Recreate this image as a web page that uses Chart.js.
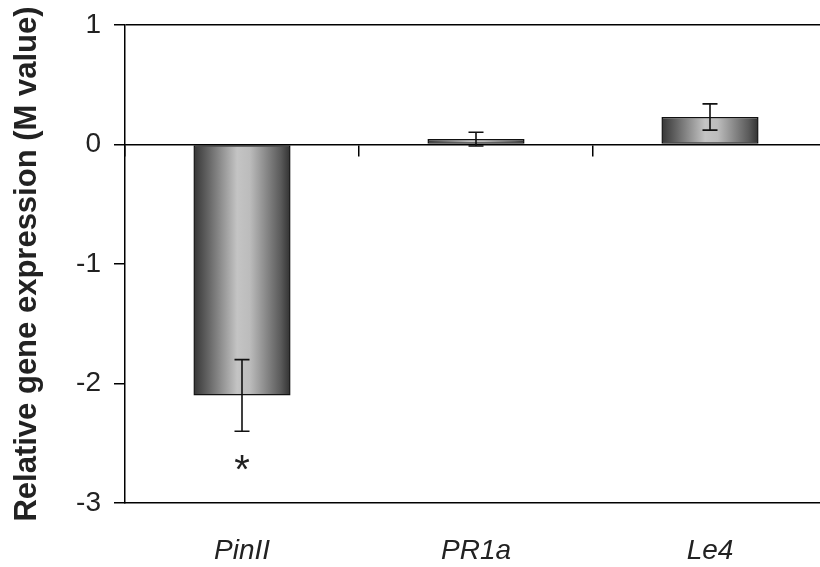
<!DOCTYPE html>
<html>
<head>
<meta charset="utf-8">
<script src="https://cdn.jsdelivr.net/npm/chart.js@4.4.1/dist/chart.umd.min.js"></script>
<style>
  html, body { margin: 0; padding: 0; background: #fff; overflow: hidden; }
  #wrap { width: 830px; height: 567px; }
</style>
</head>
<body>
<div id="wrap"><canvas id="c" width="830" height="567"></canvas></div>
<script>
// ---- data ----
const categories = ['PinII', 'PR1a', 'Le4'];
const meanValues = [-2.10, 0.045, 0.23];
const errorValues = [0.30, 0.058, 0.11];
const significance = ['*', '', ''];
const yTickMin = -3;
const yTickMax = 1;
const yTitle = 'Relative gene expression (M value)';

const BAR_PCT = 0.415;
const FONT = '"Liberation Sans", Arial, Helvetica, sans-serif';

function barGradient(c) {
  const chart = c.chart;
  const xs = chart.scales.x;
  if (!xs || c.dataIndex === undefined || !isFinite(xs.width)) return '#888';
  const cx = xs.getPixelForValue(c.dataIndex);
  const w = (xs.width / categories.length) * BAR_PCT;
  const g = chart.ctx.createLinearGradient(cx - w / 2, 0, cx + w / 2, 0);
  g.addColorStop(0, '#353535');
  g.addColorStop(0.12, '#5a5a5a');
  g.addColorStop(0.45, '#c4c4c4');
  g.addColorStop(0.58, '#bcbcbc');
  g.addColorStop(0.9, '#5a5a5a');
  g.addColorStop(1, '#303030');
  return g;
}

const errorBarPlugin = {
  id: 'errorBars',
  afterDatasetsDraw(chart) {
    const ctx = chart.ctx;
    const ys = chart.scales.y;
    const meta = chart.getDatasetMeta(0);
    ctx.save();
    ctx.strokeStyle = '#111';
    ctx.lineWidth = 1.6;
    meta.data.forEach((bar, i) => {
      const v = meanValues[i], e = errorValues[i];
      const x = bar.x;
      const yHi = ys.getPixelForValue(v + e);
      const yLo = ys.getPixelForValue(v - e);
      const cap = 7.5;
      ctx.beginPath();
      ctx.moveTo(x, yHi); ctx.lineTo(x, yLo);
      ctx.moveTo(x - cap, yHi); ctx.lineTo(x + cap, yHi);
      ctx.moveTo(x - cap, yLo); ctx.lineTo(x + cap, yLo);
      ctx.stroke();
      if (significance[i]) {
        ctx.fillStyle = '#222';
        ctx.font = '40px ' + FONT;
        ctx.textAlign = 'center';
        ctx.textBaseline = 'alphabetic';
        const low = Math.max(yHi, yLo);
        ctx.fillText(significance[i], x, low + 52);
      }
    });
    ctx.restore();
  }
};

new Chart(document.getElementById('c'), {
  type: 'bar',
  data: {
    labels: categories,
    datasets: [{
      data: meanValues,
      backgroundColor: barGradient,
      borderColor: '#111',
      borderWidth: 1.5,
      borderSkipped: false,
      barPercentage: BAR_PCT,
      categoryPercentage: 1.0
    }]
  },
  options: {
    responsive: false,
    animation: false,
    devicePixelRatio: 1,
    layout: { padding: { top: 25, left: 0, right: 3, bottom: 0 } },
    plugins: { legend: { display: false }, tooltip: { enabled: false } },
    scales: {
      x: {
        type: 'category',
        position: 'bottom',
        offset: true,
        grid: { display: false, drawTicks: false },
        border: { display: true, color: '#000', width: 1.5 },
        ticks: {
          color: '#222',
          padding: 31,
          font: { family: FONT, size: 28, style: 'italic' },
          maxRotation: 0
        },
        afterFit(s) { s.height = 64; s.paddingLeft = 0; s.paddingRight = 0; }
      },
      x2: {
        type: 'category',
        position: { y: 0 },
        offset: true,
        grid: {
          display: true,
          offset: true,
          drawOnChartArea: false,
          drawTicks: true,
          tickLength: 11,
          color: '#000',
          lineWidth: 1.5
        },
        border: { display: true, color: '#000', width: 1.5 },
        ticks: { display: false }
      },
      y: {
        min: yTickMin,
        max: yTickMax,
        position: 'left',
        ticks: {
          stepSize: 1,
          color: '#222',
          padding: 13,
          font: { family: FONT, size: 28 }
        },
        grid: {
          display: true,
          drawOnChartArea: true,
          drawTicks: true,
          tickLength: 11,
          color: (c) => (c.tick && c.tick.value === yTickMax) ? '#000' : 'rgba(0,0,0,0)',
          tickColor: '#000',
          lineWidth: 1.5
        },
        border: { display: true, color: '#000', width: 1.5 },
        title: {
          display: true,
          text: yTitle,
          color: '#222',
          font: { family: FONT, size: 31, weight: 'bold' },
          padding: { top: 9, bottom: 0 }
        },
        afterFit(s) { s.width = 125; s.paddingTop = 0; s.paddingBottom = 0; }
      }
    }
  },
  plugins: [errorBarPlugin]
});
</script>
</body>
</html>
